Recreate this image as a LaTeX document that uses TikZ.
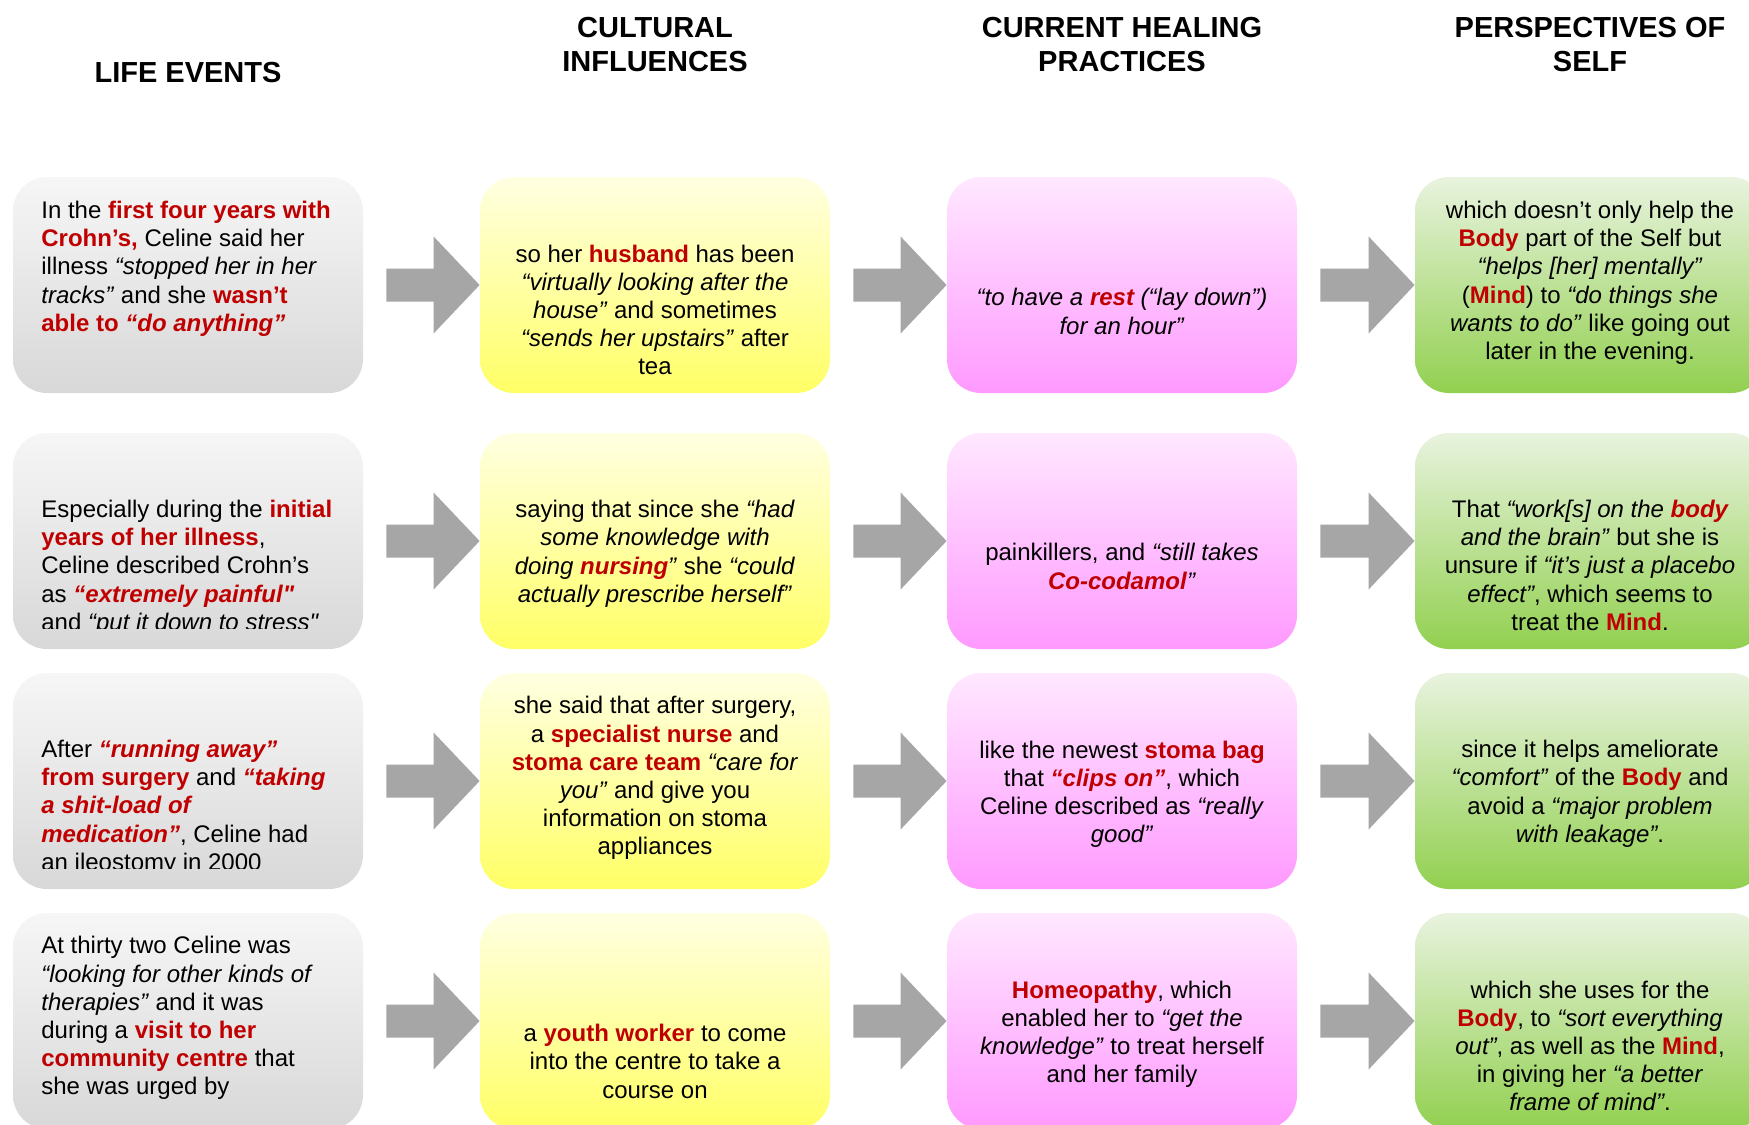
\documentclass[tikz,border=0pt]{standalone}
\usepackage{fontspec}
\setmainfont{Liberation Sans}[Ligatures=TeXOff]
\usetikzlibrary{calc}

\definecolor{hired}{RGB}{192,0,0}
\definecolor{arrowgray}{RGB}{166,166,166}
\definecolor{graytop}{RGB}{246,246,246}
\definecolor{graybot}{RGB}{216,216,216}
\definecolor{yeltop}{RGB}{255,255,226}
\definecolor{yelbot}{RGB}{255,255,102}
\definecolor{pinktop}{RGB}{255,232,255}
\definecolor{pinkbot}{RGB}{255,153,255}
\definecolor{greentop}{RGB}{232,243,222}
\definecolor{greenbot}{RGB}{146,208,80}

% red bold highlight
\newcommand\hl[1]{\textbf{\color{hired}#1}}

% thick block arrow from the east side of one box to the west side of the next
\newcommand\flowarrow[2]{%
  \fill[arrowgray] ($(#1.east)+(23,-16.5)$) -- ($(#2.west)+(-46,-16.5)$)
    -- ($(#2.west)+(-46,-48.5)$) -- (#2.west) -- ($(#2.west)+(-46,48.5)$)
    -- ($(#2.west)+(-46,16.5)$) -- ($(#1.east)+(23,16.5)$) -- cycle;}

\tikzset{
  cellbox/.style={rounded corners=17pt, minimum width=175pt, minimum height=108pt,
    inner sep=0pt, draw=none},
  lifebox/.style={cellbox, top color=graytop, bottom color=graybot},
  cultbox/.style={cellbox, top color=yeltop, bottom color=yelbot},
  healbox/.style={cellbox, top color=pinktop, bottom color=pinkbot},
  selfbox/.style={cellbox, top color=greentop, bottom color=greenbot},
  celltext/.style={inner sep=0pt, yshift=-2.25pt, font=\fontsize{12pt}{14.1pt}\selectfont,
    execute at begin node=\strut, execute at end node=\strut},
  ctext/.style={celltext, align=center},
  ltext/.style={celltext, align=left, anchor=west},
  headtext/.style={inner sep=0pt, align=center,
    font=\fontsize{14.5pt}{16.8pt}\selectfont\bfseries,
    execute at begin node=\strut, execute at end node=\strut},
}

\begin{document}
\begin{tikzpicture}[x=0.5pt, y=-0.5pt]
\useasboundingbox (0,0) rectangle (1749,1124);
\clip (0,0) rectangle (1749,1124);
\fill[white] (0,0) rectangle (1749,1124);

% column headings
\node[headtext] (h1) at (188,75.7) {LIFE EVENTS};
\node[headtext] (h2) at (655,49.5) {CULTURAL\\INFLUENCES};
\node[headtext] (h3) at (1122,49.5) {CURRENT HEALING\\PRACTICES};
\node[headtext] (h4) at (1590,49.5) {PERSPECTIVES OF\\SELF};

% boxes
\node[lifebox] (b11) at (188,285) {};
\node[cultbox] (b12) at (655,285) {};
\node[healbox] (b13) at (1122,285) {};
\node[selfbox] (b14) at (1590,285) {};

\node[lifebox] (b21) at (188,541) {};
\node[cultbox] (b22) at (655,541) {};
\node[healbox] (b23) at (1122,541) {};
\node[selfbox] (b24) at (1590,541) {};

\node[lifebox] (b31) at (188,781) {};
\node[cultbox] (b32) at (655,781) {};
\node[healbox] (b33) at (1122,781) {};
\node[selfbox] (b34) at (1590,781) {};

\node[lifebox] (b41) at (188,1021) {};
\node[cultbox] (b42) at (655,1021) {};
\node[healbox] (b43) at (1122,1021) {};
\node[selfbox] (b44) at (1590,1021) {};

% arrows
\flowarrow{b11}{b12} \flowarrow{b12}{b13} \flowarrow{b13}{b14}
\flowarrow{b21}{b22} \flowarrow{b22}{b23} \flowarrow{b23}{b24}
\flowarrow{b31}{b32} \flowarrow{b32}{b33} \flowarrow{b33}{b34}
\flowarrow{b41}{b42} \flowarrow{b42}{b43} \flowarrow{b43}{b44}

% row 1
\node[ltext] (t11) at (41,266) {In the \hl{first four years with}\\
  \hl{Crohn’s,} Celine said her\\
  illness \textit{“stopped her in her}\\
  \textit{tracks”} and she \hl{wasn’t}\\
  \hl{able to \textit{“do anything”}}};
\node[ctext] (t12) at (655,309.5) {so her \hl{husband} has been\\
  \textit{“virtually looking after the}\\
  \textit{house”} and sometimes\\
  \textit{“sends her upstairs”} after\\
  tea};
\node[ctext] (t13) at (1122,311) {\textit{“to have a \hl{rest} (“lay down”)}\\
  \textit{for an hour”}};
\node[ctext] (t14) at (1590,280) {which doesn’t only help the\\
  \hl{Body} part of the Self but\\
  \textit{“helps [her] mentally”}\\
  (\hl{Mind}) to \textit{“do things she}\\
  \textit{wants to do”} like going out\\
  later in the evening.};

% row 2
\begin{scope}
  \clip (b21.north west) rectangle ($(b21.south east)+(0,-21)$);
  \node[ltext] (t21) at (41,565) {Especially during the \hl{initial}\\
    \hl{years of her illness},\\
    Celine described Crohn’s\\
    as \hl{\textit{“extremely painful"}}\\
    and \textit{“put it down to stress"}};
\end{scope}
\node[ctext] (t22) at (655,551) {saying that since she \textit{“had}\\
  \textit{some knowledge with}\\
  \textit{doing \hl{nursing}”} she \textit{“could}\\
  \textit{actually prescribe herself”}};
\node[ctext] (t23) at (1122,566) {painkillers, and \textit{“still takes}\\
  \hl{\textit{Co-codamol}}\textit{”}};
\node[ctext] (t24) at (1590,565) {That \textit{“work[s] on the \hl{body}}\\
  \textit{and the brain”} but she is\\
  unsure if \textit{“it’s just a placebo}\\
  \textit{effect”}, which seems to\\
  treat the \hl{Mind}.};

% row 3
\begin{scope}
  \clip (b31.north west) rectangle ($(b31.south east)+(0,-21)$);
  \node[ltext] (t31) at (41,805) {After \hl{\textit{“running away”}}\\
    \hl{from surgery} and \hl{\textit{“taking}}\\
    \hl{\textit{a shit-load of}}\\
    \hl{\textit{medication”}}, Celine had\\
    an ileostomy in 2000};
\end{scope}
\node[ctext] (t32) at (655,775.5) {she said that after surgery,\\
  a \hl{specialist nurse} and\\
  \hl{stoma care team} \textit{“care for}\\
  \textit{you”} and give you\\
  information on stoma\\
  appliances};
\node[ctext] (t33) at (1122,791.5) {like the newest \hl{stoma bag}\\
  that \hl{\textit{“clips on”}}, which\\
  Celine described as \textit{“really}\\
  \textit{good”}};
\node[ctext] (t34) at (1590,791) {since it helps ameliorate\\
  \textit{“comfort”} of the \hl{Body} and\\
  avoid a \textit{“major problem}\\
  \textit{with leakage”}.};

% row 4
\node[ltext] (t41) at (41,1015.5) {At thirty two Celine was\\
  \textit{“looking for other kinds of}\\
  \textit{therapies”} and it was\\
  during a \hl{visit to her}\\
  \hl{community centre} that\\
  she was urged by};
\node[ctext] (t42) at (655,1061) {a \hl{youth worker} to come\\
  into the centre to take a\\
  course on};
\node[ctext] (t43) at (1122,1031.5) {\hl{Homeopathy}, which\\
  enabled her to \textit{“get the}\\
  \textit{knowledge”} to treat herself\\
  and her family};
\node[ctext] (t44) at (1590,1045.5) {which she uses for the\\
  \hl{Body}, to \textit{“sort everything}\\
  \textit{out”}, as well as the \hl{Mind},\\
  in giving her \textit{“a better}\\
  \textit{frame of mind”}.};
\end{tikzpicture}
\end{document}
